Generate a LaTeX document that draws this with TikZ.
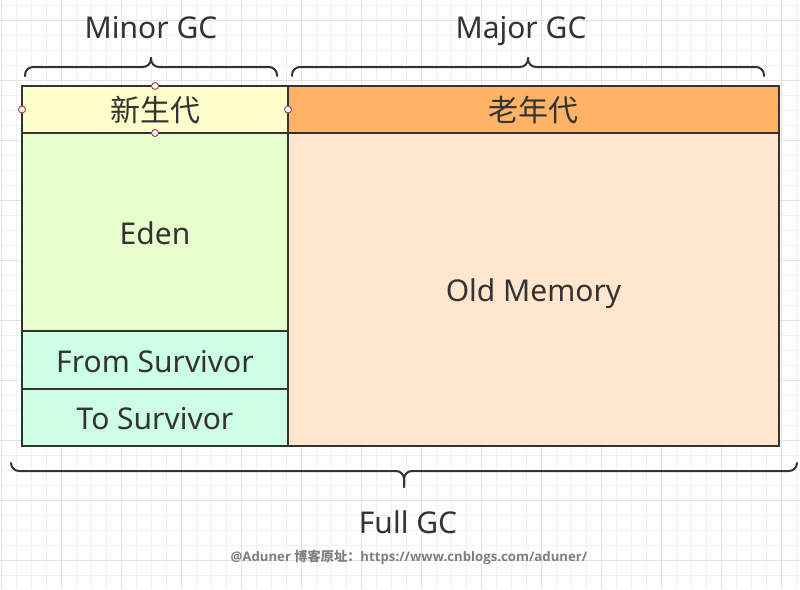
\documentclass[tikz,border=0pt]{standalone}
\usepackage{fontspec}
\setmainfont{Noto Sans}
\newfontfamily\cjk{Noto Sans CJK SC}
\newfontfamily\footfont{Open Sans}
\usetikzlibrary{positioning,backgrounds}

\definecolor{textgray}{HTML}{333333}
\definecolor{linegray}{HTML}{333333}
\definecolor{footgray}{HTML}{7F7F7F}
\definecolor{youngfill}{HTML}{FFFFCC}
\definecolor{edenfill}{HTML}{E6FFCC}
\definecolor{survfill}{HTML}{CCFFE6}
\definecolor{oldhead}{HTML}{FFB366}
\definecolor{oldfill}{HTML}{FFE6CC}
\definecolor{gridminor}{HTML}{F0F0F0}
\definecolor{gridmajor}{HTML}{E2E2E2}
\definecolor{handle}{HTML}{A33B48}

\begin{document}
\begin{tikzpicture}[
    x=1pt, y=-1pt,
    font=\fontsize{30}{36}\selectfont,
    text=textgray,
    area/.style={
        draw=linegray,
        line width=2pt,
        outer sep=0pt,
        inner sep=0pt,
        text height=24pt,
        text depth=0pt,
        align=center
    },
    young/.style={
        area,
        minimum width=266pt
    },
    old/.style={
        area,
        minimum width=491pt
    },
    gcbrace/.style={
        draw=linegray,
        line width=2pt,
        rounded corners=8pt,
        line cap=round
    },
    gclabel/.style={
        inner sep=0pt,
        anchor=base
    },
    handlept/.style={
        circle,
        draw=handle,
        fill=white,
        line width=0.9pt,
        inner sep=0pt,
        minimum size=7pt
    }
]

% Page and grid paper
\useasboundingbox (0,0) rectangle (800,589);
\fill[white] (0,0) rectangle (800,589);
\foreach \gx in {1,16,...,799} \draw[gridminor, line width=1pt] (\gx,0) -- (\gx,589);
\foreach \gy in {5,20,...,585} \draw[gridminor, line width=1pt] (0,\gy) -- (800,\gy);
\foreach \gx in {1,61,...,799} \draw[gridmajor, line width=1pt] (\gx,0) -- (\gx,589);
\foreach \gy in {20,80,...,585} \draw[gridmajor, line width=1pt] (0,\gy) -- (800,\gy);

% Young generation
\node[young, fill=youngfill, minimum height=47pt, anchor=north west] (newgen) at (22,86) {\cjk 新生代};
\node[young, fill=edenfill, minimum height=198pt, below=0pt of newgen] (eden) {Eden};
\node[young, fill=survfill, minimum height=58pt, below=0pt of eden] (fromsurv) {From Survivor};
\node[young, fill=survfill, minimum height=57pt, below=0pt of fromsurv] (tosurv) {To Survivor};

% Old generation
\node[old, fill=oldhead, minimum height=47pt, right=0pt of newgen] (oldgen) {\cjk 老年代};
\node[old, fill=oldfill, minimum height=313pt, below=0pt of oldgen] (oldmem) {Old Memory};

% Braces
\draw[gcbrace] (25,76) |- (151,67) -- (151,58);
\draw[gcbrace] (277,76) |- (151,67) -- (151,58);
\draw[gcbrace] (292,76) |- (528,67) -- (528,58);
\draw[gcbrace] (764,76) |- (528,67) -- (528,58);
\draw[gcbrace] (11,463) |- (404,471) -- (404,487);
\draw[gcbrace] (797,463) |- (404,471) -- (404,487);

% Labels
\node[gclabel] (minorlbl) at (151,38) {Minor GC};
\node[gclabel] (majorlbl) at (521,38) {Major GC};
\node[gclabel] (fulllbl) at (408,533) {Full GC};
\node[gclabel, font=\fontsize{13.2}{15}\selectfont\footfont\bfseries, text=footgray] (credit) at (409,561)
    {@Aduner {\cjk 博客原址：}https://www.cnblogs.com/aduner/};

% Selection handles
\node[handlept] (hnorth) at (newgen.north) {};
\node[handlept] (hsouth) at (newgen.south) {};
\node[handlept] (hwest) at (newgen.west) {};
\node[handlept] (heast) at (newgen.east) {};

\end{tikzpicture}
\end{document}
